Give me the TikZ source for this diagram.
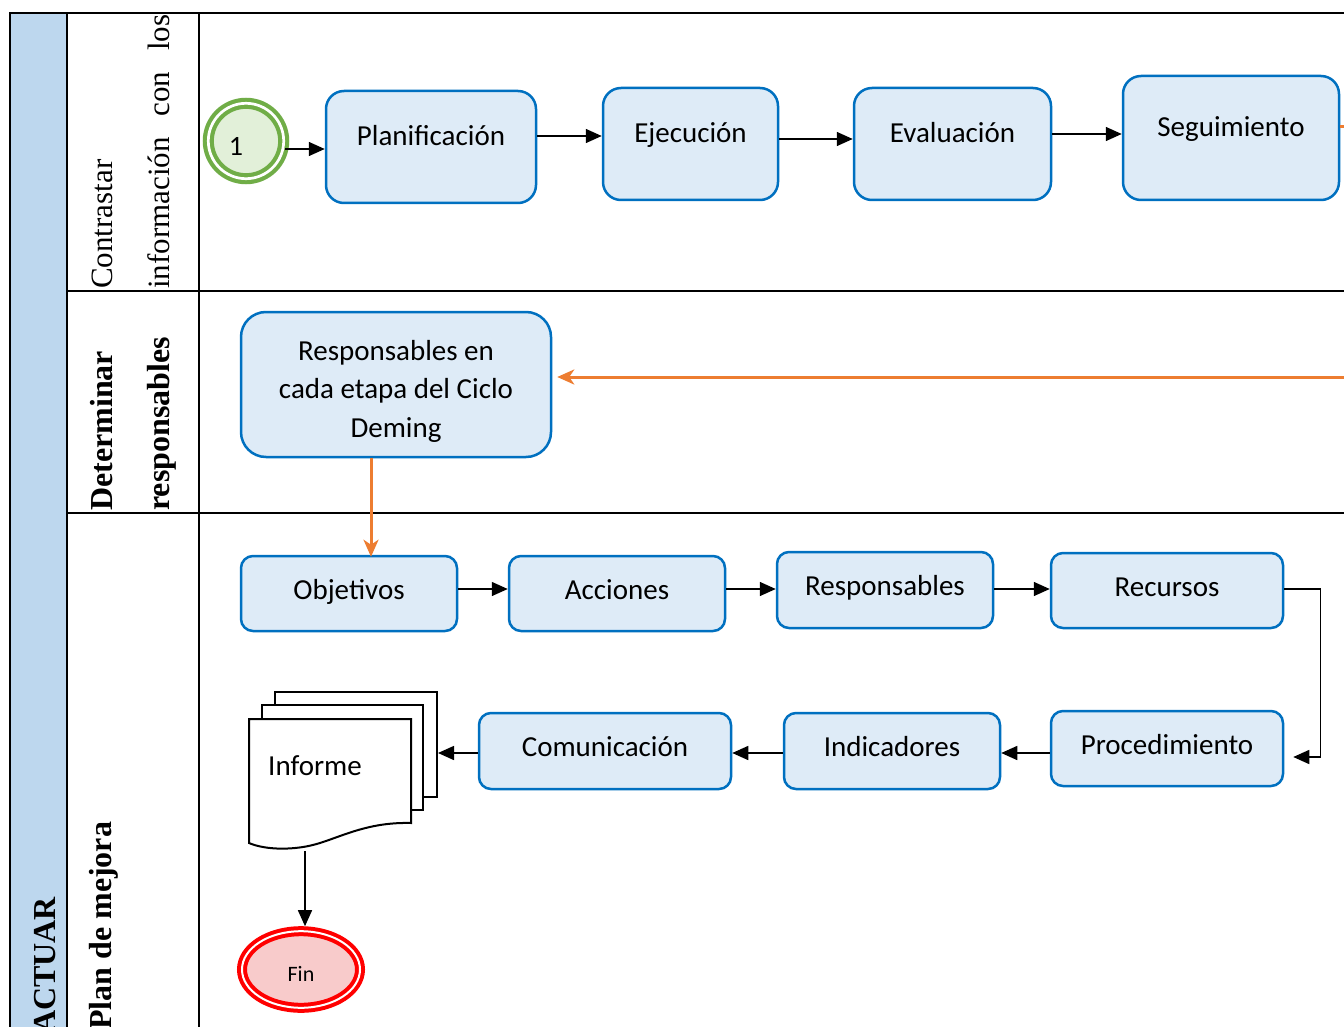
\documentclass[tikz,border=0pt]{standalone}
\usepackage{fontspec}
\setmainfont{Carlito}
\newfontfamily\lanefont{Liberation Serif}
\usetikzlibrary{arrows.meta,calc,shapes.geometric}
\definecolor{boxfill}{HTML}{DEEBF7}
\definecolor{boxline}{HTML}{0070C0}
\definecolor{colblue}{HTML}{BDD7EE}
\definecolor{startgreen}{HTML}{70AD47}
\definecolor{startfill}{HTML}{E2F0D9}
\definecolor{finred}{HTML}{FF0000}
\definecolor{finfill}{HTML}{F8CBCB}
\definecolor{flow}{HTML}{ED7D31}
\begin{document}
\begin{tikzpicture}[x=1pt,y=-1pt,
  basebox/.style={draw=boxline, fill=boxfill, line width=2.5pt, font=\fontsize{29}{35}\selectfont, inner sep=0pt},
  toprow/.style={basebox, rounded corners=18pt, text height=20pt, text depth=22pt},
  lowrow/.style={basebox, rounded corners=12pt, text height=20pt, text depth=9pt},
  arr/.style={line width=1.5pt, -{Triangle[length=16pt,width=14pt]}},
  oarr/.style={draw=flow, line width=3pt, -{Stealth[length=17pt,width=15pt,inset=5pt]}},
  framel/.style={line width=2.5pt},
  lane/.style={rotate=90, anchor=base west, font=\lanefont\fontsize{31}{38}\selectfont, inner sep=0pt},
  laneb/.style={lane, font=\lanefont\bfseries\fontsize{32}{38}\selectfont},
  page/.style={draw, fill=white, line width=2pt, inner sep=0pt},
]
\useasboundingbox (0,0) rectangle (1344,1027);
\clip (0,0) rectangle (1344,1027);
\fill[white] (0,0) rectangle (1344,1027);

% frame
\fill[colblue] (10,13) rectangle (67,1040);
\draw[framel] (10,1040) -- (10,13) -- (1360,13);
\draw[framel] (67,13) -- (67,1040);
\draw[framel] (199,13) -- (199,1040);
\draw[framel] (67,291) -- (1360,291);
\draw[framel] (67,513) -- (1360,513);

% lane labels
\node[laneb] (actuar) at (55,1034) {ACTUAR};
\node[lane] (l1a) at (112,289) {Contrastar};
\node[lane] (l1b) at (169,289) {\makebox[274pt][s]{información con los}};
\node[laneb] (l2a) at (112,511) {Determinar};
\node[laneb] (l2b) at (169,511) {responsables};
\node[laneb] (l3) at (111,1030) {Plan de mejora};

% lane 1
\node[circle, minimum size=75.4pt, draw=startgreen, double=white, double distance=2.7pt, line width=4.2pt, fill=startfill, inner sep=0pt, outer sep=5.5pt] (start) at (246,141) {};
\node[font=\fontsize{28}{32}\selectfont, inner sep=0pt] (startT) at (236,146) {1};
\node[toprow, minimum width=210pt, minimum height=112pt] (plan) at (431,147) {Planificación};
\node[toprow, minimum width=175pt, minimum height=112pt] (ejec) at (690.5,144) {Ejecución};
\node[toprow, minimum width=197pt, minimum height=112pt] (eval) at (952.5,144) {Evaluación};
\node[toprow, minimum width=216pt, minimum height=124pt] (seg) at (1231,138) {Seguimiento};
\coordinate (offR1) at (1370,127);
\coordinate (offR2) at (1370,377);

\draw[arr] ([xshift=-4pt]start.east |- 0,149) -- (plan.west |- 0,149);
\draw[arr] (plan.east |- 0,136) -- (ejec.west |- 0,136);
\draw[arr] (ejec.east |- 0,139) -- (eval.west |- 0,139);
\draw[arr] (eval.east |- 0,134) -- (seg.west |- 0,134);
\draw[draw=flow, line width=3pt] (seg.east |- offR1) -- (offR1);

% lane 2
\node[basebox, rounded corners=25pt, minimum width=310pt, minimum height=145pt, align=center, font=\fontsize{29}{38.5}\selectfont] (resp) at (396,384.5) {\rule{0pt}{33pt}Responsables en\\cada etapa del Ciclo\\Deming};
\draw[oarr] (offR2) -- ([xshift=5pt]resp.east |- offR2);

% lane 3
\node[lowrow, minimum width=216pt, minimum height=75pt] (obj) at (349,593.5) {Objetivos};
\node[lowrow, minimum width=216pt, minimum height=75pt] (acc) at (617,593.5) {Acciones};
\node[lowrow, minimum width=216pt, minimum height=76pt] (res) at (885,590) {Responsables};
\node[lowrow, minimum width=232pt, minimum height=75pt] (rec) at (1167,590.5) {Recursos};
\node[lowrow, minimum width=232pt, minimum height=75pt] (proc) at (1167,748.5) {Procedimiento};
\node[lowrow, minimum width=216pt, minimum height=76pt] (ind) at (892,751) {Indicadores};
\node[lowrow, minimum width=252pt, minimum height=76pt] (com) at (605,751) {Comunicación};

\draw[oarr] (resp.south -| 371,0) -- ([yshift=-2pt]obj.north -| 371,0);

\draw[arr] (obj.east |- 0,589) -- (acc.west |- 0,589);
\draw[arr] (acc.east |- 0,589) -- (res.west |- 0,589);
\draw[arr] (res.east |- 0,589) -- (rec.west |- 0,589);
\draw[arr] (rec.east |- 0,589) -- ++(36,0) |- ([xshift=9pt]proc.east |- 0,757);
\draw[arr] (proc.west |- 0,753) -- (ind.east |- 0,753);
\draw[arr] (ind.west |- 0,753) -- (com.east |- 0,753);

% Informe (multiple documents)
\node[page, minimum width=162pt, minimum height=105pt] (page3) at (356,744.5) {};
\node[page, minimum width=161pt, minimum height=105pt] (page2) at (342.5,757.5) {};
\draw[line width=2pt, fill=white] (249,843) -- (249,719) -- (411,719) -- (411,823)
  .. controls (370,822) and (345,835) .. (320,843)
  .. controls (295,851) and (265,850) .. (249,843) -- cycle;
\node[anchor=west, font=\fontsize{29}{35}\selectfont, inner sep=0pt] (infT) at (268,766) {Informe};
\coordinate (docbot) at (305,851);
\draw[arr] (com.west |- 0,753) -- (page3.east |- 0,753);

% Fin
\node[ellipse, minimum width=118pt, minimum height=76.6pt, draw=finred, double=white, double distance=2pt, line width=4pt, fill=finfill, inner sep=0pt, outer sep=5pt, font=\fontsize{22}{26}\selectfont, text height=23pt, text depth=0pt] (fin) at (301,969.5) {Fin};
\draw[arr] (docbot) -- (docbot |- fin.north);
\end{tikzpicture}
\end{document}
